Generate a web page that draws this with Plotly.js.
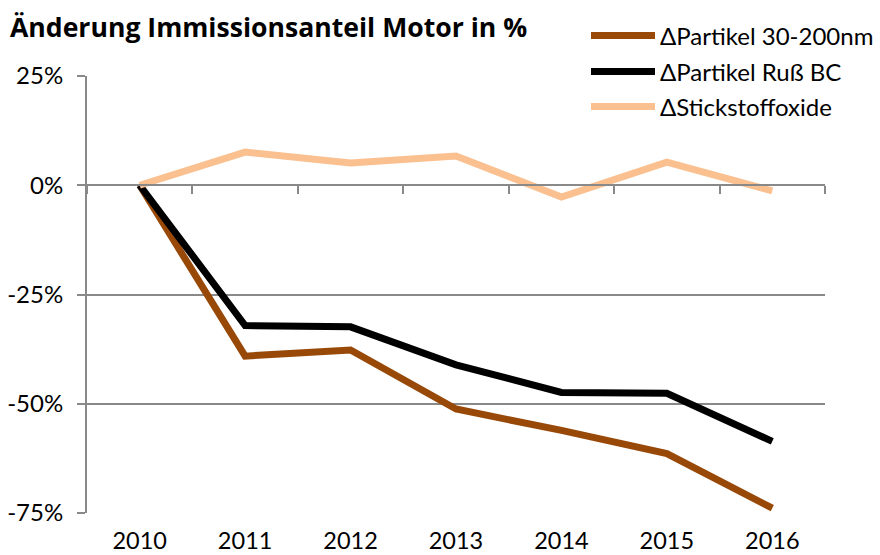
<!DOCTYPE html>
<html>
<head>
<meta charset="utf-8">
<script src="https://cdn.plot.ly/plotly-3.0.1.min.js"></script>
<style>html,body{margin:0;padding:0;background:#fff;}#chart{width:880px;height:555px;}</style>
</head>
<body>
<div id="chart"></div>
<script>
const years = ['2010','2011','2012','2013','2014','2015','2016'];
const partikel = [0, -39.1, -37.7, -51.2, -56.1, -61.4, -73.9];
const russ = [0, -32.1, -32.4, -41.1, -47.4, -47.6, -58.6];
const stickoxide = [0, 7.6, 5.1, 6.7, -2.7, 5.3, -1.3];
const seriesNames = ['ΔPartikel 30-200nm', 'ΔPartikel Ruß BC', 'ΔStickstoffoxide'];
const yTicks = [-75, -50, -25, 0, 25];

const FONT = 'Lato, "Open Sans", sans-serif';
const GRID = '#898989';
const TXT = 24;

const traces = [
  {x: years, y: partikel, name: seriesNames[0], type: 'scatter', mode: 'lines',
   line: {color: '#984807', width: 7}, xaxis: 'x', yaxis: 'y', legend: 'legend'},
  {x: years, y: russ, name: seriesNames[1], type: 'scatter', mode: 'lines',
   line: {color: '#000000', width: 7}, xaxis: 'x', yaxis: 'y', legend: 'legend2'},
  {x: years, y: stickoxide, name: seriesNames[2], type: 'scatter', mode: 'lines',
   line: {color: '#FAC090', width: 7}, xaxis: 'x2', yaxis: 'y', legend: 'legend3'}
];

// plot area: top 76px, bottom 513px (437px tall)
function legendAt(rowY) {
  return {x: (586 - 87) / 738, xanchor: 'left', y: (513 - rowY) / 437, yanchor: 'middle',
          bgcolor: '#fff', borderwidth: 0, itemwidth: 64,
          font: {family: FONT, size: TXT, color: '#000'}};
}

const layout = {
  width: 880, height: 555,
  margin: {l: 87, r: 55, t: 76, b: 42, autoexpand: false},
  paper_bgcolor: '#fff', plot_bgcolor: '#fff',
  font: {family: FONT, size: TXT, color: '#000'},
  title: {text: '<b>Änderung Immissionsanteil Motor in %</b>', x: 10/880, xref: 'container', xanchor: 'left',
          y: 1 - 28/555, yref: 'container', yanchor: 'middle',
          font: {family: '"Open Sans", Lato, sans-serif', size: 26.6, color: '#000'}},
  xaxis: {type: 'category', categoryorder: 'array', categoryarray: years, range: [-0.5, 6.5],
          showline: false, showgrid: false, zeroline: false,
          ticks: 'outside', ticklen: 7, tickcolor: 'rgba(0,0,0,0)',
          tickfont: {family: FONT, size: 23.5, color: '#000'}, fixedrange: true},
  xaxis2: {type: 'category', categoryorder: 'array', categoryarray: years, range: [-0.5, 6.5],
           overlaying: 'x', anchor: 'free', position: 0.75, side: 'bottom',
           showline: true, linecolor: GRID, linewidth: 2,
           ticks: 'outside', tickson: 'boundaries', ticklen: 8, tickwidth: 2, tickcolor: GRID,
           showticklabels: false, showgrid: false, zeroline: false, fixedrange: true},
  yaxis: {range: [-75, 25], tickvals: yTicks, ticktext: yTicks.map(v => v + '%'),
          showgrid: true, gridcolor: GRID, gridwidth: 2, zeroline: false,
          showline: true, linecolor: GRID, linewidth: 2,
          ticks: 'outside', ticklen: 8, tickwidth: 2, tickcolor: GRID, ticklabelstandoff: 9,
          tickfont: {family: FONT, size: TXT, color: '#000'}, fixedrange: true},
  legend: legendAt(36),
  legend2: legendAt(72),
  legend3: legendAt(107),
  showlegend: true
};

Plotly.newPlot('chart', traces, layout, {displayModeBar: false, staticPlot: true});
</script>
</body>
</html>
